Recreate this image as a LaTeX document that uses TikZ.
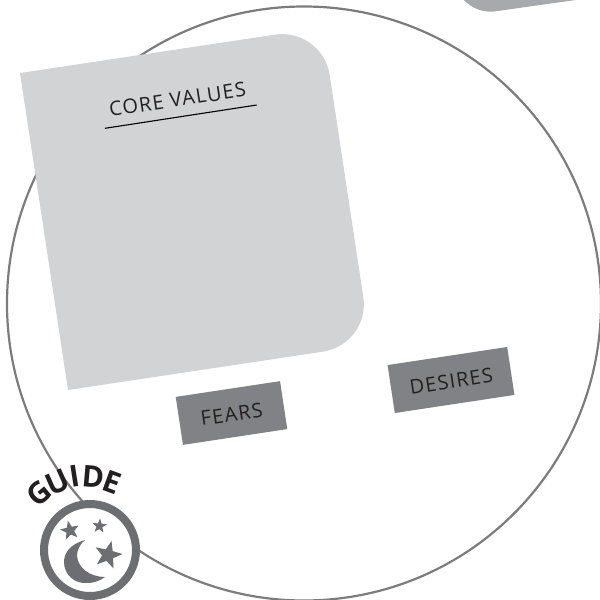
\documentclass[tikz,border=0pt]{standalone}
\usepackage{fontspec}
\setmainfont{Open Sans}
\newfontfamily\labelfont[LetterSpace=6]{Open Sans}
\newfontfamily\guidefont{Open Sans}
\usepackage{xcolor}
\usetikzlibrary{positioning, shapes.geometric}
\definecolor{panelgray}{HTML}{D1D3D4}
\definecolor{cornergray}{HTML}{A7A9AC}
\definecolor{boxgray}{HTML}{808285}
\definecolor{ringgray}{HTML}{6D6E71}
\definecolor{inkdark}{HTML}{231F20}
\tikzset{
  tagbox/.style={fill=boxgray, text=inkdark, inner sep=0pt, rotate=8.6, minimum height=48.5pt, text height=17pt,
    font=\labelfont\fontsize{20}{22}\selectfont},
  iconstar/.style={star, star points=5, star point ratio=2.4, fill=ringgray, inner sep=0pt},
  guideletter/.style={inner sep=0pt, text=inkdark, font=\guidefont\bfseries\fontsize{30}{32}\selectfont}
}

\begin{document}
\begin{tikzpicture}[x=1pt, y=-1pt]
  \useasboundingbox (0,0) rectangle (600,600);
  \clip (0,0) rectangle (600,600);

  % outer circle and the corner of the next panel
  \fill[cornergray] (459,-6) .. controls (467,6) and (480,13) .. (494,11.5) -- (590,-2) -- cycle;
  \draw[ringgray!90, line width=2.2pt] (304,303.5) circle (297);

  % main panel
  \fill[panelgray] (20,73) [rounded corners=48pt] -- (322.5,27.5) -- (370.5,344.5) [sharp corners] -- (68,390) -- cycle;
  \node[rotate=8.6, inner sep=0pt, text=inkdark, font=\labelfont\fontsize{20}{22}\selectfont] (coreLabel) at (177.5,99.5) {CORE VALUES};
  \coordinate (ruleStart) at (105,128.3);
  \coordinate (ruleEnd) at (256.7,105);
  \draw[black, line width=1.1pt] (ruleStart) -- (ruleEnd);

  \node[tagbox, minimum width=105.5pt] (fears) at (231.5,413) {FEARS};
  \node[tagbox, minimum width=121pt] (desires) at (451,380) {DESIRES};

  % badge
  \node[circle, draw=ringgray, fill=white, line width=8pt, minimum size=92pt, inner sep=0pt] (badge) at (90,550) {};
  \node[iconstar, minimum size=20pt, rotate=12] (starLeft) at (70,530.5) {};
  \node[iconstar, minimum size=15pt, rotate=-5] (starRight) at (99.5,526) {};
  \node[iconstar, minimum size=29pt, rotate=-14] (starBig) at (108,555) {};
  \fill[ringgray] (85,540) .. controls (71,544) and (64,552) .. (64,562)
    .. controls (64,575) and (75,584) .. (87,583)
    .. controls (95,583) and (101,580) .. (105,577)
    .. controls (90,577) and (78,568) .. (77,556)
    .. controls (77,550) and (80,544) .. (85,540) -- cycle;

  \foreach \ch/\px/\py/\rot in {G/39/493/40, U/58/482/24, I/75/476/9, D/93/477/-5, E/112/482/-20}
    \node[guideletter, rotate=\rot] (letter\ch) at (\px,\py) {\ch};
\end{tikzpicture}
\end{document}
